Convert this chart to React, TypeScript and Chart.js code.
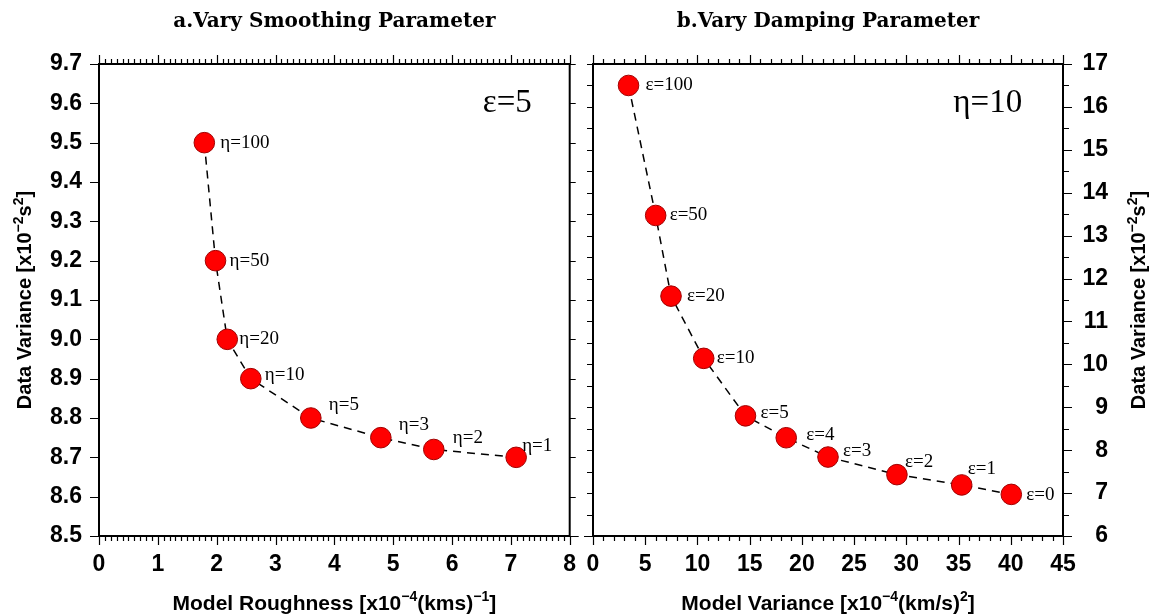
import React, { useEffect, useRef } from 'react';
import { Chart, registerables } from 'chart.js';

Chart.register(...registerables);

// ---------- Panel a: vary smoothing parameter (eps = 5) ----------
const etaLabels = ['η=100', 'η=50', 'η=20', 'η=10', 'η=5', 'η=3', 'η=2', 'η=1'];
const roughnessX = [1.79, 1.98, 2.18, 2.58, 3.6, 4.79, 5.69, 7.09];
const dataVarianceA = [9.5, 9.2, 9.0, 8.9, 8.8, 8.75, 8.72, 8.7];
const xTicksA = [0, 1, 2, 3, 4, 5, 6, 7, 8];
const yTicksA = [8.5, 8.6, 8.7, 8.8, 8.9, 9.0, 9.1, 9.2, 9.3, 9.4, 9.5, 9.6, 9.7];

// ---------- Panel b: vary damping parameter (eta = 10) ----------
const epsLabels = ['ε=100', 'ε=50', 'ε=20', 'ε=10', 'ε=5', 'ε=4', 'ε=3', 'ε=2', 'ε=1', 'ε=0'];
const modelVarianceX = [3.4, 6.0, 7.47, 10.6, 14.6, 18.5, 22.5, 29.1, 35.3, 40.05];
const dataVarianceB = [16.5, 13.47, 11.59, 10.14, 8.8, 8.29, 7.84, 7.43, 7.19, 6.97];
const xTicksB = [0, 5, 10, 15, 20, 25, 30, 35, 40, 45];
const yTicksB = [6, 7, 8, 9, 10, 11, 12, 13, 14, 15, 16, 17];

// label placement (pixel offsets from marker centre), kept apart from the data
const etaLabelOffsets = [[16, 0], [14, 0], [12, 0], [14, -4], [18, -13], [18, -13], [19, -11], [6, -11]];
const epsLabelOffsets = [[17, 0], [14, 0], [16, 0], [13, 0], [15, -3], [20, -3], [15, -6], [8, -13], [6, -16], [15, 1]];

type Seg = { t: string; sup?: boolean };

const SANS = "'Liberation Sans', Arial, Helvetica, sans-serif";
const SERIF = "'Liberation Serif', 'Times New Roman', serif";
const TITLE_SERIF = "'DejaVu Serif', 'Liberation Serif', serif";

function drawRich(ctx: CanvasRenderingContext2D, segs: Seg[], cx: number, cy: number, rotate: boolean, size: number) {
  ctx.save();
  ctx.translate(cx, cy);
  if (rotate) ctx.rotate(-Math.PI / 2);
  const mainFont = `bold ${size}px ${SANS}`;
  const supFont = `bold ${Math.round(size * 0.68)}px ${SANS}`;
  let total = 0;
  for (const s of segs) {
    ctx.font = s.sup ? supFont : mainFont;
    total += ctx.measureText(s.t).width;
  }
  let x = -total / 2;
  ctx.textAlign = 'left';
  ctx.textBaseline = 'alphabetic';
  ctx.fillStyle = '#000';
  for (const s of segs) {
    ctx.font = s.sup ? supFont : mainFont;
    ctx.fillText(s.t, x, s.sup ? -size * 0.42 : 0);
    x += ctx.measureText(s.t).width;
  }
  ctx.restore();
}

type TickSpec = { min: number; max: number; step: number; majorEvery: number };

interface PanelSpec {
  title: string;
  xTitle: Seg[];
  yTitle: Seg[];
  yTitleX: number;
  annotation: string;
  annX: number;
  annY: number;
  labels: string[];
  offsets: number[][];
  xs: number[];
  ys: number[];
  xTicks: number[];
  yTicks: number[];
  yDecimals: number;
  xMinor: TickSpec;
  yMinorLeft: TickSpec;
  yMinorRight: TickSpec;
  yPosition: 'left' | 'right';
  yCrossAlign: 'near' | 'far';
  canvasWidth: number;
  padLeft: number;
  padRight: number;
  yAxisWidth: number;
  yPadding: number;
}

function makePlugin(spec: PanelSpec) {
  return {
    id: 'gmtFrame',
    afterDraw(chart: any) {
      const ctx: CanvasRenderingContext2D = chart.ctx;
      const area = chart.chartArea;
      const xs = chart.scales.x;
      const ys = chart.scales.y;
      ctx.save();
      ctx.strokeStyle = '#000';
      ctx.fillStyle = '#000';

      // ticks
      const drawTicks = (side: 'top' | 'bottom' | 'left' | 'right', t: TickSpec, majorLen: number, minorLen: number) => {
        const n = Math.round((t.max - t.min) / t.step);
        ctx.lineWidth = 1.2;
        ctx.beginPath();
        for (let i = 0; i <= n; i++) {
          const v = t.min + i * t.step;
          const major = i % t.majorEvery === 0;
          const len = major ? majorLen : minorLen;
          if (side === 'top' || side === 'bottom') {
            const px = Math.round(xs.getPixelForValue(v)) + 0.5;
            const y0 = side === 'top' ? area.top : area.bottom;
            const dir = side === 'top' ? -1 : 1;
            ctx.moveTo(px, y0);
            ctx.lineTo(px, y0 + dir * len);
          } else {
            const py = Math.round(ys.getPixelForValue(v)) + 0.5;
            const x0 = side === 'left' ? area.left : area.right;
            const dir = side === 'left' ? -1 : 1;
            ctx.moveTo(x0, py);
            ctx.lineTo(x0 + dir * len, py);
          }
        }
        ctx.stroke();
      };
      drawTicks('bottom', spec.xMinor, 9, 5);
      drawTicks('top', spec.xMinor, 9, 5);
      drawTicks('left', spec.yMinorLeft, 9, 6);
      drawTicks('right', spec.yMinorRight, 9, 6);

      // frame
      ctx.lineWidth = 2;
      ctx.strokeRect(area.left, area.top, area.right - area.left, area.bottom - area.top);

      // point labels
      const meta = chart.getDatasetMeta(0);
      ctx.font = `19px ${SERIF}`;
      ctx.textAlign = 'left';
      ctx.textBaseline = 'middle';
      meta.data.forEach((pt: any, i: number) => {
        const off = spec.offsets[i] || [14, 0];
        ctx.fillText(spec.labels[i], pt.x + off[0], pt.y + off[1]);
      });

      // annotation (eps=5 / eta=10)
      ctx.font = `33px ${SERIF}`;
      ctx.textAlign = 'center';
      ctx.fillText(spec.annotation, xs.getPixelForValue(spec.annX), ys.getPixelForValue(spec.annY));

      // panel title
      ctx.font = `bold 20px ${TITLE_SERIF}`;
      ctx.textAlign = 'center';
      ctx.textBaseline = 'alphabetic';
      ctx.fillText(spec.title, (area.left + area.right) / 2, 27);

      ctx.restore();

      // axis titles
      drawRich(ctx, spec.xTitle, (area.left + area.right) / 2, 610, false, 21);
      drawRich(ctx, spec.yTitle, spec.yTitleX, (area.top + area.bottom) / 2, true, 20);
    },
  };
}

function Panel({ spec, left }: { spec: PanelSpec; left: number }) {
  const ref = useRef<HTMLCanvasElement>(null);
  useEffect(() => {
    const tickFont = { family: SANS, size: 23, weight: 'bold' as const };
    const chart = new Chart(ref.current as HTMLCanvasElement, {
      type: 'scatter',
      data: {
        datasets: [
          {
            data: spec.xs.map((x, i) => ({ x, y: spec.ys[i] })),
            showLine: true,
            borderColor: '#000',
            borderWidth: 1.5,
            borderDash: [8, 6],
            pointRadius: 10.3,
            pointHoverRadius: 10.3,
            pointBackgroundColor: '#ff0000',
            pointBorderColor: '#a00000',
            pointBorderWidth: 1,
            tension: 0,
          } as any,
        ],
      },
      options: {
        responsive: false,
        animation: false,
        devicePixelRatio: 1,
        layout: { padding: { top: 64, left: spec.padLeft, right: spec.padRight, bottom: 0 } },
        plugins: { legend: { display: false }, tooltip: { enabled: false } },
        events: [],
        scales: {
          x: {
            type: 'linear',
            position: 'bottom',
            min: spec.xTicks[0],
            max: spec.xTicks[spec.xTicks.length - 1],
            afterBuildTicks: (s: any) => {
              s.ticks = spec.xTicks.map((v) => ({ value: v }));
            },
            afterFit: (s: any) => {
              s.height = 80;
              s.paddingLeft = 0;
              s.paddingRight = 0;
            },
            ticks: {
              font: tickFont,
              color: '#000',
              padding: 15,
              maxRotation: 0,
              autoSkip: false,
              callback: (v: any) => String(v),
            },
            grid: { display: false, drawTicks: false },
            border: { display: false },
          },
          y: {
            type: 'linear',
            position: spec.yPosition,
            min: spec.yTicks[0],
            max: spec.yTicks[spec.yTicks.length - 1],
            afterBuildTicks: (s: any) => {
              s.ticks = spec.yTicks.map((v) => ({ value: v }));
            },
            afterFit: (s: any) => {
              s.width = spec.yAxisWidth;
              s.paddingTop = 0;
              s.paddingBottom = 0;
            },
            ticks: {
              font: tickFont,
              color: '#000',
              padding: spec.yPadding,
              crossAlign: spec.yCrossAlign,
              autoSkip: false,
              callback: (v: any) => Number(v).toFixed(spec.yDecimals),
            },
            grid: { display: false, drawTicks: false },
            border: { display: false },
          },
        },
      } as any,
      plugins: [makePlugin(spec)],
    });
    return () => chart.destroy();
  }, []);
  return (
    <canvas
      ref={ref}
      width={spec.canvasWidth}
      height={616}
      style={{ position: 'absolute', left, top: 0, width: spec.canvasWidth, height: 616, display: 'block' }}
    />
  );
}

const panelA: PanelSpec = {
  title: 'a.Vary Smoothing Parameter',
  xTitle: [{ t: 'Model Roughness [x10' }, { t: '−4', sup: true }, { t: '(kms)' }, { t: '−1', sup: true }, { t: ']' }],
  yTitle: [{ t: 'Data Variance [x10' }, { t: '−2', sup: true }, { t: 's' }, { t: '2', sup: true }, { t: ']' }],
  yTitleX: 31,
  annotation: 'ε=5',
  annX: 6.94,
  annY: 9.6,
  labels: etaLabels,
  offsets: etaLabelOffsets,
  xs: roughnessX,
  ys: dataVarianceA,
  xTicks: xTicksA,
  yTicks: yTicksA,
  yDecimals: 1,
  xMinor: { min: 0, max: 8, step: 0.1, majorEvery: 10 },
  yMinorLeft: { min: 8.5, max: 9.7, step: 0.1, majorEvery: 1 },
  yMinorRight: { min: 8.5, max: 9.7, step: 0.1, majorEvery: 1000 },
  yPosition: 'left',
  yCrossAlign: 'near',
  canvasWidth: 581,
  padLeft: 0,
  padRight: 11,
  yAxisWidth: 99,
  yPadding: 17,
};

const panelB: PanelSpec = {
  title: 'b.Vary Damping Parameter',
  xTitle: [{ t: 'Model Variance [x10' }, { t: '−4', sup: true }, { t: '(km/s)' }, { t: '2', sup: true }, { t: ']' }],
  yTitle: [{ t: 'Data Variance [x10' }, { t: '−2', sup: true }, { t: 's' }, { t: '2', sup: true }, { t: ']' }],
  yTitleX: 564,
  annotation: 'η=10',
  annX: 37.8,
  annY: 16.09,
  labels: epsLabels,
  offsets: epsLabelOffsets,
  xs: modelVarianceX,
  ys: dataVarianceB,
  xTicks: xTicksB,
  yTicks: yTicksB,
  yDecimals: 0,
  xMinor: { min: 0, max: 45, step: 1, majorEvery: 5 },
  yMinorLeft: { min: 6, max: 17, step: 0.5, majorEvery: 1000 },
  yMinorRight: { min: 6, max: 17, step: 0.5, majorEvery: 2 },
  yPosition: 'right',
  yCrossAlign: 'far',
  canvasWidth: 573,
  padLeft: 12,
  padRight: 46,
  yAxisWidth: 45,
  yPadding: 2,
};

export default function App() {
  return (
    <div style={{ position: 'fixed', left: 0, top: 0, width: 1154, height: 616, background: '#fff', overflow: 'hidden' }}>
      <Panel spec={panelA} left={0} />
      <Panel spec={panelB} left={581} />
    </div>
  );
}
